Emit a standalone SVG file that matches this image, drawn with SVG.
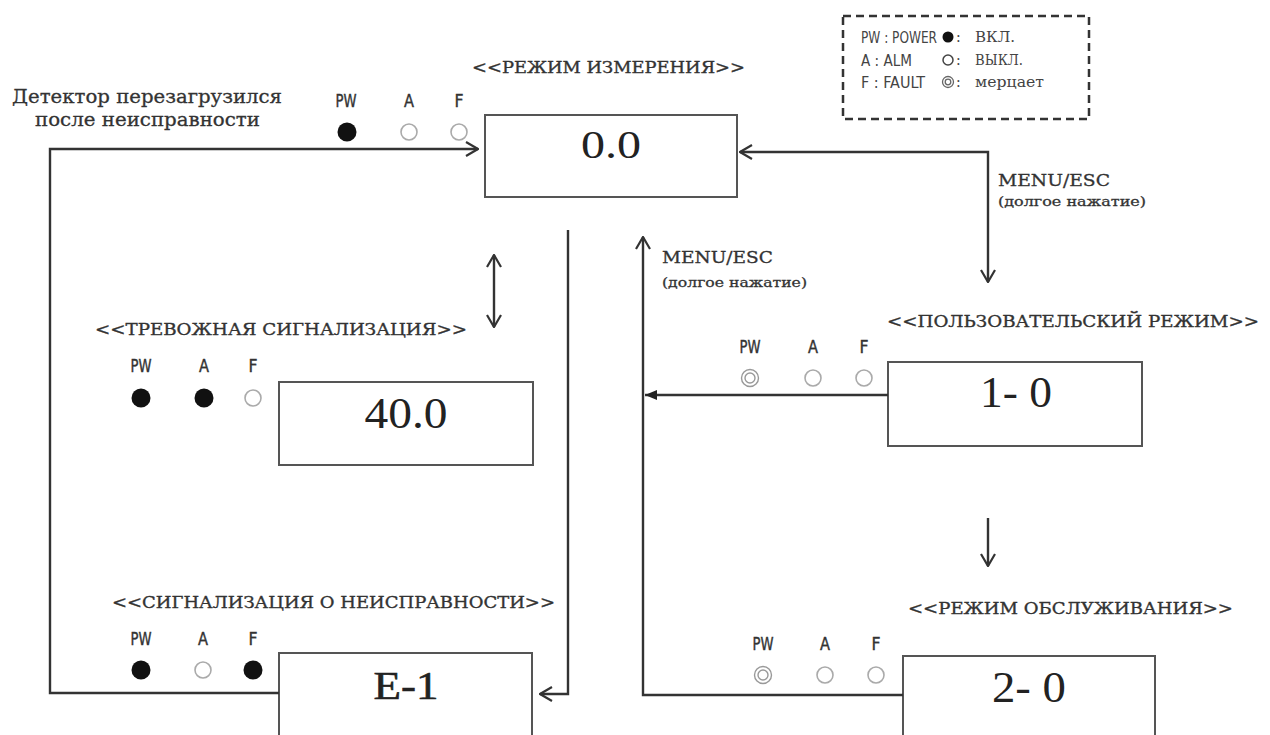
<svg xmlns="http://www.w3.org/2000/svg" width="1270" height="735" viewBox="0 0 1270 735">
<style>
.title{font-family:"DejaVu Serif","Liberation Serif",serif;font-size:16.5px;fill:#333;stroke:#333;stroke-width:0.35}
.note{font-family:"DejaVu Serif","Liberation Serif",serif;fill:#333;stroke:#333;stroke-width:0.3}
.led{font-family:"DejaVu Sans Condensed","DejaVu Sans","Liberation Sans",sans-serif;font-size:18px;fill:#333;text-anchor:middle;stroke:#333;stroke-width:0.4}
.val{font-family:"Liberation Serif","DejaVu Serif",serif;fill:#222;text-anchor:middle}
.box{fill:#fff;stroke:#555;stroke-width:2}
.on{fill:#111}
.off{fill:none;stroke:#aaa;stroke-width:1.6}
.blink{fill:none;stroke:#999;stroke-width:1.4}
.conn{fill:none;stroke:#333;stroke-width:2.4}
.leg{font-family:"DejaVu Sans Condensed","DejaVu Sans",sans-serif;font-size:15px;fill:#444}
.legr{font-family:"DejaVu Serif","Liberation Serif",serif;font-size:14px;fill:#444}
</style>
<defs>
<marker id="open" viewBox="0 0 14 16" refX="13" refY="8" markerWidth="14" markerHeight="16" markerUnits="userSpaceOnUse" orient="auto-start-reverse">
<path d="M1,1 L13,8 L1,15" fill="none" stroke="#333" stroke-width="2.2"/>
</marker>
<marker id="solid" viewBox="0 0 12 10" refX="12" refY="5" markerWidth="12" markerHeight="10" markerUnits="userSpaceOnUse" orient="auto">
<path d="M0,0 L12,5 L0,10 Z" fill="#222"/>
</marker>
</defs>

<g id="legend">
<rect x="843" y="16" width="246" height="103" fill="none" stroke="#333" stroke-width="2.5" stroke-dasharray="8 5"/>
<text class="leg" x="861" y="43" textLength="76" lengthAdjust="spacingAndGlyphs">PW : POWER</text>
<text class="leg" x="861" y="66" textLength="51" lengthAdjust="spacingAndGlyphs">A : ALM</text>
<text class="leg" x="861" y="88" textLength="64" lengthAdjust="spacingAndGlyphs">F : FAULT</text>
<circle cx="948" cy="37" r="5.5" class="on"/>
<circle cx="948" cy="60" r="5" fill="none" stroke="#444" stroke-width="1.5"/>
<circle cx="948" cy="82" r="5.5" fill="none" stroke="#666" stroke-width="1.3"/>
<circle cx="948" cy="82" r="2.8" fill="none" stroke="#666" stroke-width="1.3"/>
<text class="legr" x="956" y="42">:</text>
<text class="legr" x="956" y="65">:</text>
<text class="legr" x="956" y="87">:</text>
<text class="legr" x="975" y="42" textLength="40" lengthAdjust="spacingAndGlyphs">ВКЛ.</text>
<text class="legr" x="975" y="65" textLength="48" lengthAdjust="spacingAndGlyphs">ВЫКЛ.</text>
<text class="legr" x="975" y="87" textLength="69" lengthAdjust="spacingAndGlyphs">мерцает</text>
</g>

<g id="restart-note">
<text class="note" font-size="18" x="12" y="103" textLength="270" lengthAdjust="spacingAndGlyphs">Детектор перезагрузился</text>
<text class="note" font-size="18" x="35" y="126" textLength="225" lengthAdjust="spacingAndGlyphs">после неисправности</text>
</g>

<g id="measure-mode">
<text class="title" x="472" y="73" textLength="273" lengthAdjust="spacingAndGlyphs">&lt;&lt;РЕЖИМ ИЗМЕРЕНИЯ&gt;&gt;</text>
<text class="led" x="346" y="107" textLength="21" lengthAdjust="spacingAndGlyphs">PW</text>
<text class="led" x="409" y="107" textLength="10" lengthAdjust="spacingAndGlyphs">A</text>
<text class="led" x="459" y="107" textLength="9" lengthAdjust="spacingAndGlyphs">F</text>
<circle cx="347" cy="132" r="9.5" class="on"/>
<circle cx="409" cy="132" r="8" class="off"/>
<circle cx="459" cy="132" r="8" class="off"/>
<rect class="box" x="485" y="115" width="252" height="82"/>
<text class="val" font-size="40" x="611" y="158" textLength="60" lengthAdjust="spacingAndGlyphs">0.0</text>
</g>

<g id="alarm">
<text class="title" x="95" y="335" textLength="372" lengthAdjust="spacingAndGlyphs">&lt;&lt;ТРЕВОЖНАЯ СИГНАЛИЗАЦИЯ&gt;&gt;</text>
<text class="led" x="141" y="372" textLength="21" lengthAdjust="spacingAndGlyphs">PW</text>
<text class="led" x="204" y="372" textLength="10" lengthAdjust="spacingAndGlyphs">A</text>
<text class="led" x="253" y="372" textLength="9" lengthAdjust="spacingAndGlyphs">F</text>
<circle cx="141" cy="398" r="9.5" class="on"/>
<circle cx="204" cy="398" r="9.5" class="on"/>
<circle cx="253" cy="398" r="8" class="off"/>
<rect class="box" x="279" y="382" width="254" height="83"/>
<text class="val" font-size="44" x="406" y="428" textLength="83" lengthAdjust="spacingAndGlyphs">40.0</text>
</g>

<g id="fault">
<text class="title" x="112" y="608" textLength="443" lengthAdjust="spacingAndGlyphs">&lt;&lt;СИГНАЛИЗАЦИЯ О НЕИСПРАВНОСТИ&gt;&gt;</text>
<text class="led" x="141" y="645" textLength="21" lengthAdjust="spacingAndGlyphs">PW</text>
<text class="led" x="203" y="645" textLength="10" lengthAdjust="spacingAndGlyphs">A</text>
<text class="led" x="253" y="645" textLength="9" lengthAdjust="spacingAndGlyphs">F</text>
<circle cx="141" cy="670" r="9.5" class="on"/>
<circle cx="203" cy="670" r="8" class="off"/>
<circle cx="253" cy="670" r="9.5" class="on"/>
<rect class="box" x="279" y="653" width="253" height="95"/>
<text class="val" font-size="40" x="406" y="699" font-family="DejaVu Serif, serif" stroke="#222" stroke-width="0.6" textLength="65" lengthAdjust="spacingAndGlyphs">E-1</text>
</g>

<g id="user-mode">
<text class="title" x="887" y="327" textLength="372" lengthAdjust="spacingAndGlyphs">&lt;&lt;ПОЛЬЗОВАТЕЛЬСКИЙ РЕЖИМ&gt;&gt;</text>
<text class="led" x="750" y="353" textLength="21" lengthAdjust="spacingAndGlyphs">PW</text>
<text class="led" x="813" y="353" textLength="10" lengthAdjust="spacingAndGlyphs">A</text>
<text class="led" x="864" y="353" textLength="9" lengthAdjust="spacingAndGlyphs">F</text>
<circle cx="750" cy="378" r="8.5" class="blink"/>
<circle cx="750" cy="378" r="5" class="blink"/>
<circle cx="813" cy="378" r="8" class="off"/>
<circle cx="864" cy="378" r="8" class="off"/>
<rect class="box" x="888" y="362" width="254" height="84"/>
<text class="val" font-size="44" x="1016" y="407" textLength="72" lengthAdjust="spacingAndGlyphs">1- 0</text>
</g>

<g id="service-mode">
<text class="title" x="908" y="614" textLength="325" lengthAdjust="spacingAndGlyphs">&lt;&lt;РЕЖИМ ОБСЛУЖИВАНИЯ&gt;&gt;</text>
<text class="led" x="763" y="650" textLength="21" lengthAdjust="spacingAndGlyphs">PW</text>
<text class="led" x="825" y="650" textLength="10" lengthAdjust="spacingAndGlyphs">A</text>
<text class="led" x="876" y="650" textLength="9" lengthAdjust="spacingAndGlyphs">F</text>
<circle cx="763" cy="675" r="8.5" class="blink"/>
<circle cx="763" cy="675" r="5" class="blink"/>
<circle cx="825" cy="675" r="8" class="off"/>
<circle cx="876" cy="675" r="8" class="off"/>
<rect class="box" x="903" y="656" width="252" height="95"/>
<text class="val" font-size="44" x="1029" y="702" textLength="74" lengthAdjust="spacingAndGlyphs">2- 0</text>
</g>

<g id="connectors">
<path class="conn" d="M279,693 H50 V149 H478" marker-end="url(#open)"/>
<path class="conn" d="M988,282 V152 H740" marker-start="url(#open)" marker-end="url(#open)"/>
<path class="conn" d="M494,255 V327" marker-start="url(#open)" marker-end="url(#open)"/>
<path class="conn" d="M568,230 V694 H540" marker-end="url(#open)"/>
<path class="conn" d="M903,695 H643 V237" marker-end="url(#open)"/>
<path class="conn" d="M888,395 H645" marker-end="url(#solid)"/>
<path class="conn" d="M988,518 V566" marker-end="url(#open)"/>
<text class="note" font-size="16" x="998" y="186" textLength="112" lengthAdjust="spacingAndGlyphs">MENU/ESC</text>
<text class="note" font-size="13" x="998" y="206" textLength="148" lengthAdjust="spacingAndGlyphs">(долгое нажатие)</text>
<text class="note" font-size="16" x="662" y="263" textLength="111" lengthAdjust="spacingAndGlyphs">MENU/ESC</text>
<text class="note" font-size="13" x="662" y="287" textLength="145" lengthAdjust="spacingAndGlyphs">(долгое нажатие)</text>
</g>
</svg>
